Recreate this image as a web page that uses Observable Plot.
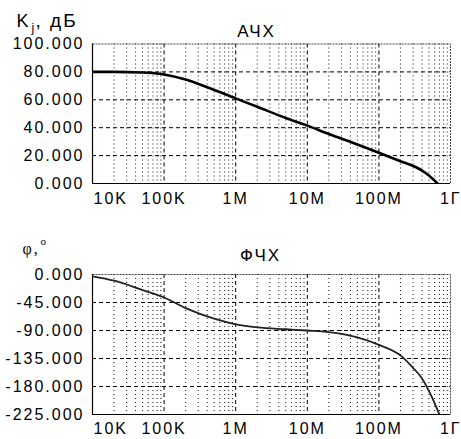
<!DOCTYPE html>
<html>
<head>
<meta charset="utf-8">
<script src="https://cdn.jsdelivr.net/npm/d3@7"></script>
<script src="https://cdn.jsdelivr.net/npm/@observablehq/plot@0.6"></script>
<style>
  html, body { margin: 0; padding: 0; background: #fff; }
  #chart svg { display: block; }
  #chart svg text { letter-spacing: 2px; }
</style>
</head>
<body>
<div id="chart"></div>
<script>
// ---- data ----
const freqTicks = [1e4, 1e5, 1e6, 1e7, 1e8, 1e9];
const freqTickLabels = ["10K", "100K", "1M", "10M", "100M", "1Г"];

const ampFreq = [1e4, 2e4, 5e4, 1e5, 2e5, 4e5, 1e6, 2e6, 5e6, 1e7, 2e7, 5e7, 1e8, 2e8, 3.2e8, 4e8, 5e8, 6.6e8];
const ampDb   = [80, 80, 79.6, 78.2, 74.5, 69, 61, 55, 47, 41.5, 35.5, 28, 22, 16, 12, 9.3, 5.8, 0];
const ampTicks = [0, 20, 40, 60, 80, 100];

const phFreq = [1e4, 2e4, 5e4, 1e5, 2e5, 5e5, 1e6, 2e6, 5e6, 1e7, 2e7, 5e7, 1e8, 2e8, 3e8, 4e8, 5.5e8, 7e8];
const phDeg  = [-3, -10, -25, -37, -54, -71, -80, -85, -88, -90, -92.5, -101, -113, -130, -150, -167, -197, -225];
const phTicks = [0, -45, -90, -135, -180, -225];

const ampTitle = "АЧХ";
const phTitle = "ФЧХ";

// ---- helpers ----
const W = 461;
const ML = 92, MR = 11;
const minorX = [];
for (const d of freqTicks.slice(0, -1)) for (let k = 2; k <= 9; k++) minorX.push(d * k);

const sans = "Liberation Sans, Arial, sans-serif";
const serif = "Liberation Serif, Times New Roman, serif";

function label(txt, px, py, mt, opts = {}) {
  return Plot.text([txt], {
    text: d => d, frameAnchor: "top-left",
    dx: px - ML, dy: py - mt, lineAnchor: "middle", fill: "#000", ...opts
  });
}

function panel({height, mt, mb, yDomain, yTicks, xs, ys, lineW, lineColor, extra, labelDy}) {
  const data = xs.map((x, i) => ({x, y: ys[i]}));
  const n = freqTicks.length;
  return Plot.plot({
    width: W, height,
    marginLeft: ML, marginRight: MR, marginTop: mt, marginBottom: mb,
    style: {fontFamily: sans, fontSize: "16px", color: "#000", background: "#fff", overflow: "visible"},
    x: {type: "log", domain: [1e4, 1e9], axis: null},
    y: {domain: yDomain, axis: null},
    marks: [
      Plot.ruleX(minorX, {stroke: "#111", strokeWidth: 1, strokeDasharray: "1,3"}),
      Plot.ruleX(freqTicks.slice(1, -1), {stroke: "#000", strokeWidth: 1, strokeDasharray: "4,3"}),
      Plot.ruleY(yTicks.slice(1, -1), {stroke: "#000", strokeWidth: 1, strokeDasharray: "4,3"}),
      Plot.frame({stroke: "#444", strokeWidth: 1, strokeDasharray: "2,1"}),
      Plot.ruleX([1e4], {stroke: "#000", strokeWidth: 1.2}),
      Plot.ruleY([yDomain[0]], {stroke: "#000", strokeWidth: 1.2}),
      Plot.axisY({ticks: yTicks, tickSize: 0, tickPadding: 8, tickFormat: d => d.toFixed(3), fill: "#000", label: null}),
      Plot.text(freqTicks.slice(0, 1), {x: d => d, text: (d, i) => freqTickLabels[i], frameAnchor: "bottom", dy: labelDy, dx: 1, textAnchor: "start", lineAnchor: "middle", fill: "#000"}),
      Plot.text(freqTicks.slice(1, n - 1), {x: d => d, text: (d, i) => freqTickLabels[i + 1], frameAnchor: "bottom", dy: labelDy, textAnchor: "middle", lineAnchor: "middle", fill: "#000"}),
      Plot.text(freqTicks.slice(n - 1), {x: d => d, text: (d, i) => freqTickLabels[n - 1], frameAnchor: "bottom", dy: labelDy, dx: 11, textAnchor: "end", lineAnchor: "middle", fill: "#000"}),
      Plot.line(data, {x: "x", y: "y", stroke: lineColor, strokeWidth: lineW, curve: "monotone-x", clip: true}),
      ...extra
    ]
  });
}

const topMt = 43.5, botMt = 54;

const ampChart = panel({
  height: 220, mt: topMt, mb: 37,
  yDomain: [0, 100], yTicks: ampTicks,
  xs: ampFreq, ys: ampDb, lineW: 2.6, lineColor: "#000",
  labelDy: 15,
  extra: [
    label(ampTitle, 256, 31, topMt, {textAnchor: "middle", fontSize: 17}),
    label("K", 16, 20.5, topMt, {textAnchor: "start", fontSize: 18}),
    label("j", 31, 28, topMt, {textAnchor: "start", fontSize: 12}),
    label(", дБ", 35, 20.5, topMt, {textAnchor: "start", fontSize: 19})
  ]
});

const phChart = panel({
  height: 219, mt: botMt, mb: 25,
  yDomain: [-225, 0], yTicks: phTicks.slice().reverse(),
  xs: phFreq, ys: phDeg, lineW: 1.8, lineColor: "#222",
  labelDy: 14,
  extra: [
    label(phTitle, 260, 35, botMt, {textAnchor: "middle", fontSize: 17}),
    label("φ,", 22, 28, botMt, {textAnchor: "start", fontSize: 16, fontFamily: serif}),
    label("o", 40, 21, botMt, {textAnchor: "start", fontSize: 11, fontFamily: serif})
  ]
});

document.getElementById("chart").append(ampChart, phChart);
</script>
</body>
</html>
